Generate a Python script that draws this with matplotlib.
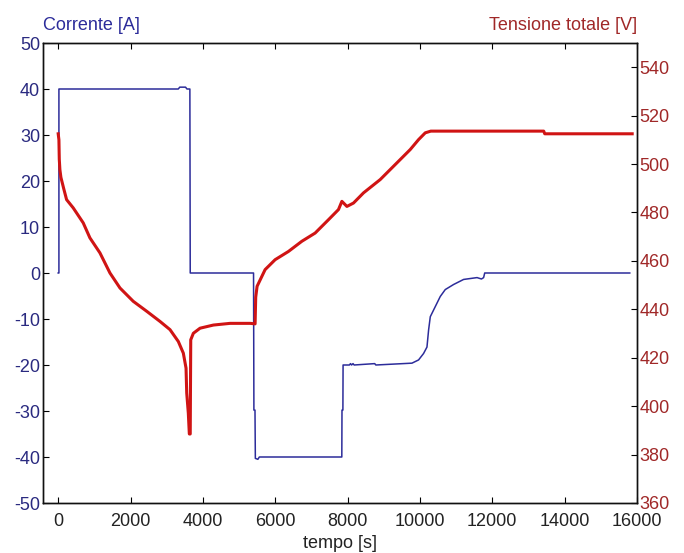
import numpy as np
import matplotlib
matplotlib.use("Agg")
import matplotlib.pyplot as plt

# current (A) vs time (s)
t_cur = [0, 20, 20, 3320, 3360, 3520, 3560, 3640, 3650, 5400, 5410, 5440, 5450,
         5520, 5560, 7840, 7845, 7870, 7875, 8050, 8080, 8110, 8150, 8180, 8750,
         8780, 9779, 9962, 10100, 10194, 10239, 10286, 10424, 10562, 10700,
         10930, 11207, 11578, 11700, 11760, 11790, 15800]
i_cur = [0, 0, 40, 40, 40.4, 40.4, 40, 40, 0, 0, -29.8, -29.8, -40.3,
         -40.5, -40, -40, -29.8, -29.8, -20, -20, -19.7, -20, -19.7, -20, -19.7,
         -20, -19.6, -18.9, -17.5, -16.1, -12.4, -9.5, -7.3, -5.1, -3.6,
         -2.5, -1.4, -1.0, -1.3, -1.0, 0, 0]

# total voltage (V) vs time (s)
t_volt = [0, 20, 30, 47, 75, 150, 232, 415, 692, 877, 1154, 1431, 1708, 2075,
          2446, 2814, 3091, 3321, 3459, 3534, 3553, 3597, 3625, 3650, 3664,
          3736, 3921, 4290, 4751, 5305, 5443, 5460, 5498, 5720, 5997, 6365,
          6735, 7103, 7471, 7748, 7842, 7981, 8163, 8440, 8902, 9364, 9732,
          9962, 10147, 10300, 11807, 13421, 13450, 15867]
v_tot = [512.5, 510, 502, 497.7, 494.5, 490, 485.3, 481.9, 475.7, 469.5, 463.3,
         455.0, 448.8, 443.3, 439.2, 435.0, 431.6, 426.7, 421.9, 415.7, 405.4,
         397.1, 388.5, 388.5, 427.4, 430.1, 432.2, 433.5, 434.2, 434.2, 434.0,
         445, 449.5, 456.4, 460.5, 463.9, 468.1, 471.5, 477.0, 481.2, 484.6,
         482.5, 483.9, 488.1, 493.6, 500.5, 506.0, 510.1, 512.9, 513.6, 513.6,
         513.6, 512.5, 512.5]

x_ticks = [0, 2000, 4000, 6000, 8000, 10000, 12000, 14000, 16000]
left_ticks = [-50, -40, -30, -20, -10, 0, 10, 20, 30, 40, 50]
right_ticks = [360, 380, 400, 420, 440, 460, 480, 500, 520, 540]

plt.rcParams['font.family'] = ['Liberation Sans', 'DejaVu Sans']
FS = 13
BLUE = '#2c2c9a'
BLUE_TXT = '#2a2a80'
RED = '#d01414'
RED_TXT = '#a02828'

fig = plt.figure(figsize=(6.84, 5.53), dpi=100)
ax = fig.add_axes([43/684, 50/553, 594/684, 460/553])
ax.plot(t_cur, i_cur, color=BLUE, lw=1.1)
ax.set_xlim(-420, 16000)
ax.set_ylim(-50, 50)
ax.set_xticks(x_ticks)
ax.set_xticklabels([str(v) for v in x_ticks], fontsize=FS, color='#222222')
ax.set_yticks(left_ticks)
ax.set_yticklabels([str(v) for v in left_ticks], fontsize=FS, color=BLUE_TXT)
ax.tick_params(axis='x', direction='in', top=True, length=4, pad=7)
ax.tick_params(axis='y', direction='in', right=False, length=4, pad=2)
ax.set_xlabel('tempo [s]', fontsize=FS, color='#222222', labelpad=4)
ax.text(0, 1.028, 'Corrente [A]', transform=ax.transAxes, fontsize=FS,
        color=BLUE, ha='left', va='baseline')

ax2 = ax.twinx()
ax2.plot(t_volt, v_tot, color=RED, lw=2.2)
ax2.set_ylim(360, 550)
ax2.set_yticks(right_ticks)
ax2.set_yticklabels([str(v) for v in right_ticks], fontsize=FS, color=RED_TXT)
ax2.tick_params(axis='y', direction='in', length=4, pad=2)
ax2.text(1, 1.028, 'Tensione totale [V]', transform=ax.transAxes, fontsize=FS,
         color=RED_TXT, ha='right', va='baseline')

for a in (ax, ax2):
    for s in a.spines.values():
        s.set_linewidth(1.0)
        s.set_color('#111111')

fig.savefig('out.png', dpi=100)
